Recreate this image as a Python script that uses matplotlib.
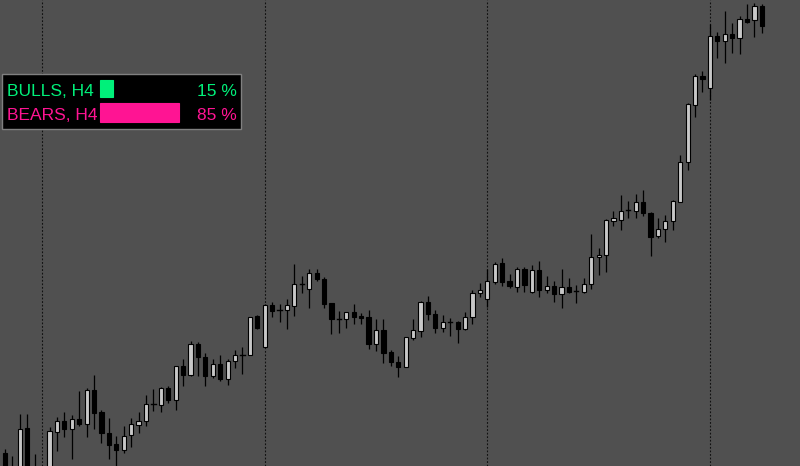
import matplotlib
matplotlib.use("Agg")
import matplotlib.pyplot as plt
from matplotlib.patches import Rectangle

# OHLC prices (arbitrary price units; higher = up), one entry per H4 bar
opens = [13, -14, -6, 38, -6, -6, -8, 34, 45, 37, 47, 42, 76, 54, 33, 22, 16, 31, 41, 45,
         62, 61, 78, 66, 100, 91, 122, 109, 90, 102, 87, 105, 111, 111, 150, 119, 161, 156, 156, 160,
         182, 177, 193, 187, 163, 147, 147, 154, 150, 149, 122, 136, 114, 104, 99, 128, 135, 164, 152, 138,
         144, 144, 137, 149, 173, 167, 184, 203, 185, 179, 197, 174, 196, 176, 180, 172, 179, 175, 174, 182,
         209, 211, 245, 246, 256, 255, 264, 253, 230, 237, 245, 264, 304, 361, 390, 378, 430, 425, 432, 428,
         447, 446, 460]
highs = [17, 10, 52, 52, 12, -2, 39, 49, 54, 51, 75, 78, 91, 56, 48, 30, 40, 48, 54, 71,
         77, 79, 80, 100, 107, 125, 124, 113, 107, 111, 107, 116, 119, 149, 151, 162, 164, 162, 167, 202,
         190, 197, 197, 189, 163, 155, 154, 162, 153, 156, 147, 147, 116, 110, 129, 147, 165, 170, 156, 151,
         148, 145, 154, 176, 183, 197, 204, 208, 192, 199, 199, 201, 205, 190, 185, 197, 188, 181, 188, 232,
         218, 247, 255, 271, 265, 272, 276, 254, 248, 251, 266, 311, 363, 392, 395, 442, 434, 455, 443, 450,
         462, 463, 462]
lows = [-12, -20, -14, -16, -22, -24, -14, 15, 29, 7, 40, 29, 37, 23, 7, 0, 13, 19, 33, 40,
        55, 54, 63, 56, 80, 90, 90, 80, 88, 85, 81, 98, 92, 111, 137, 119, 149, 144, 137, 150,
        173, 158, 185, 158, 132, 133, 138, 142, 142, 117, 115, 103, 100, 89, 99, 126, 129, 146, 133, 134,
        130, 123, 136, 142, 169, 159, 182, 180, 178, 174, 174, 173, 169, 173, 164, 158, 173, 163, 173, 177,
        191, 194, 240, 236, 248, 248, 250, 210, 228, 224, 236, 264, 296, 349, 374, 366, 408, 403, 413, 412,
        443, 429, 433]
closes = [-6, -6, 37, -9, -14, -14, 35, 45, 37, 47, 42, 76, 53, 33, 21, 16, 30, 42, 45, 62,
          62, 78, 66, 100, 91, 122, 109, 90, 102, 87, 105, 111, 111, 149, 138, 161, 155, 156, 161, 182,
          182, 193, 187, 162, 147, 147, 154, 149, 148, 122, 136, 113, 104, 99, 129, 136, 164, 152, 138, 144,
          144, 137, 149, 173, 176, 185, 202, 184, 180, 197, 181, 196, 176, 180, 172, 179, 174, 175, 182, 209,
          211, 246, 248, 255, 256, 264, 253, 229, 237, 245, 265, 304, 362, 390, 387, 430, 425, 432, 428, 447,
          444, 460, 440]
# bar indices where the weekly period separators fall
separators = [5, 35, 65, 95]

panel_rows = ["BULLS, H4", "BEARS, H4"]
panel_pct = [15, 85]

BG = "#505050"
BULL_FILL = "#c8c8c8"
GREEN = "#00F07A"
PINK = "#FF1493"

fig = plt.figure(figsize=(8.0, 4.66), dpi=100, facecolor=BG)
ax = fig.add_axes([0, 0, 1, 1])
ax.set_facecolor(BG)
step = 7.42
ax.set_xlim(-5 / step, 795 / step)
ax.set_ylim(0, 466)
ax.axis("off")

for s in separators:
    ax.axvline(s, color="#111111", lw=0.8, ls=(0, (1.6, 1.6)), zorder=1)

n = len(opens)
xs = list(range(n))
ax.vlines(xs, lows, highs, color="black", lw=0.9, zorder=2)
bw = 4.2 / step
for i in xs:
    o, c = opens[i], closes[i]
    bottom = min(o, c)
    h = abs(c - o)
    fc = BULL_FILL if c > o else "black"
    if h == 0:
        ax.plot([i - bw / 2, i + bw / 2], [o, o], color="black", lw=1.0, zorder=3)
    else:
        ax.add_patch(Rectangle((i - bw / 2, bottom), bw, h, facecolor=fc,
                               edgecolor="black", lw=0.8, zorder=3))

# Info panel in pixel coordinates
pax = fig.add_axes([0, 0, 1, 1])
pax.set_xlim(0, 800)
pax.set_ylim(466, 0)
pax.axis("off")
pax.patch.set_alpha(0)
pax.add_patch(Rectangle((2, 73.5), 239, 55.5, facecolor="black", edgecolor="#808080", lw=1.0, zorder=5))

colors = [GREEN, PINK]
baselines = [95.5, 119.5]
bar_tops = [80, 103]
bar_h = [17, 19]
for k in range(2):
    pax.text(7, baselines[k], panel_rows[k], color=colors[k], fontsize=12.5,
             family="Liberation Sans", va="baseline", ha="left", zorder=6)
    pax.text(237, baselines[k], f"{panel_pct[k]} %", color=colors[k], fontsize=12.5,
             family="Liberation Sans", va="baseline", ha="right", zorder=6)
    w = 93 * panel_pct[k] / 100
    pax.add_patch(Rectangle((99.5, bar_tops[k]), w, bar_h[k], facecolor=colors[k],
                            edgecolor=colors[k], lw=0.8, zorder=6))

fig.savefig("out.png", dpi=100, facecolor=BG)
